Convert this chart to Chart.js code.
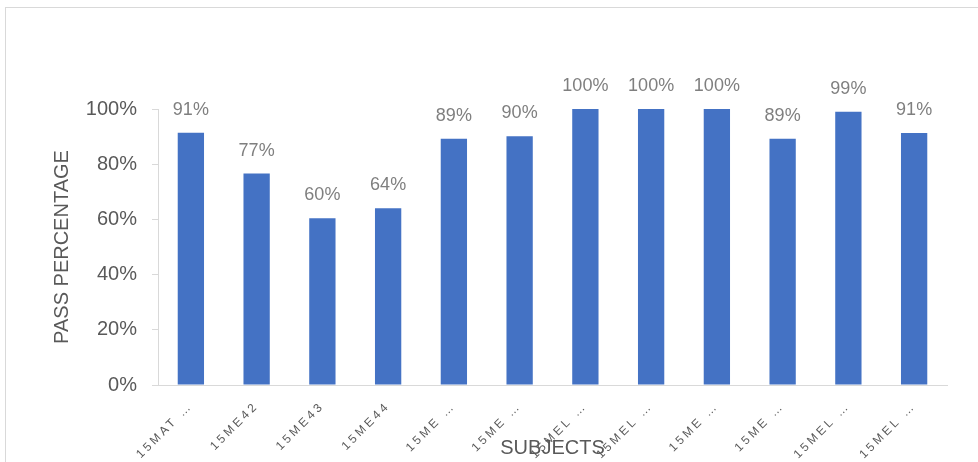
<!DOCTYPE html>
<html>
<head>
<meta charset="utf-8">
<script src="https://cdn.jsdelivr.net/npm/chart.js@4"></script>
<style>
    body { margin: 0; background: #fff; }
    #wrap { position: relative; width: 978px; height: 462px; overflow: hidden; }
    #frame { position: absolute; left: 5px; top: 7px; width: 1000px; height: 500px;
             border-top: 1px solid #d9d9d9; border-left: 1px solid #d9d9d9; pointer-events: none; }
    canvas { position: absolute; left: 0; top: 0; }
</style>
</head>
<body>
<div id="wrap">
    <canvas id="grafico" width="978" height="462"></canvas>
    <div id="frame"></div>
</div>
<script>
// Dados do gráfico
const disciplinas = ['15MAT …', '15ME42', '15ME43', '15ME44', '15ME …', '15ME …',
    '15MEL …', '15MEL …', '15ME …', '15ME …', '15MEL …', '15MEL …'];
const aprovacao = [0.914, 0.766, 0.604, 0.640, 0.892, 0.901, 1.0, 1.0, 1.0, 0.892, 0.990, 0.913];
const ticksY = [0, 0.2, 0.4, 0.6, 0.8, 1.0];

const cinza = '#595959';
Chart.defaults.font.family = '"Liberation Sans", Arial, sans-serif';

// rótulos de valor acima das barras
const rotulos = {
    id: 'rotulos',
    afterDatasetsDraw(chart) {
        const ctx = chart.ctx;
        const meta = chart.getDatasetMeta(0);
        ctx.save();
        ctx.font = '18px "Liberation Sans", Arial, sans-serif';
        ctx.fillStyle = '#7f7f7f';
        ctx.textAlign = 'center';
        ctx.textBaseline = 'middle';
        meta.data.forEach((bar, i) => {
            ctx.fillText(Math.round(aprovacao[i] * 100) + '%', bar.x, bar.y - 23);
        });
        ctx.restore();
    }
};

// espaçamento entre letras nos rótulos do eixo x
const espacado = {
    id: 'espacado',
    beforeDraw(chart) {
        const sc = chart.scales.x;
        if (sc._espacado) return;
        sc._espacado = true;
        const orig = sc.drawLabels;
        sc.drawLabels = function (area) {
            this.ctx.save();
            this.ctx.letterSpacing = '3px';
            orig.call(this, area);
            this.ctx.restore();
        };
    }
};

new Chart(document.getElementById('grafico'), {
    type: 'bar',
    data: {
        labels: disciplinas,
        datasets: [{
            data: aprovacao,
            backgroundColor: '#4472c4',
            categoryPercentage: 1,
            barPercentage: 0.4
        }]
    },
    options: {
        responsive: false,
        animation: false,
        layout: { padding: { top: 109, right: 31, left: 0, bottom: 0 } },
        plugins: { legend: { display: false }, tooltip: { enabled: false } },
        scales: {
            x: {
                grid: { display: false },
                border: { color: '#d9d9d9', width: 1 },
                ticks: {
                    color: cinza,
                    font: { size: 12 },
                    minRotation: 45,
                    maxRotation: 45,
                    autoSkip: false,
                    padding: 6
                },
                title: {
                    display: true,
                    text: 'SUBJECTS',
                    color: cinza,
                    font: { size: 20 },
                    padding: { top: 0, bottom: 2 }
                },
                afterFit(scale) { scale.height = 77; }
            },
            y: {
                min: 0,
                max: 1,
                afterBuildTicks(scale) { scale.ticks = ticksY.map(v => ({ value: v })); },
                grid: { drawOnChartArea: false, tickLength: 6, color: '#d9d9d9' },
                border: { color: '#d9d9d9', width: 1 },
                ticks: {
                    color: cinza,
                    font: { size: 20 },
                    padding: 15,
                    callback: v => Math.round(v * 100) + '%'
                },
                title: {
                    display: true,
                    text: 'PASS PERCENTAGE',
                    color: cinza,
                    font: { size: 20 },
                    padding: { top: 50, bottom: 0 }
                },
                afterFit(scale) { scale.width = 158; }
            }
        }
    },
    plugins: [rotulos, espacado]
});
</script>
</body>
</html>
